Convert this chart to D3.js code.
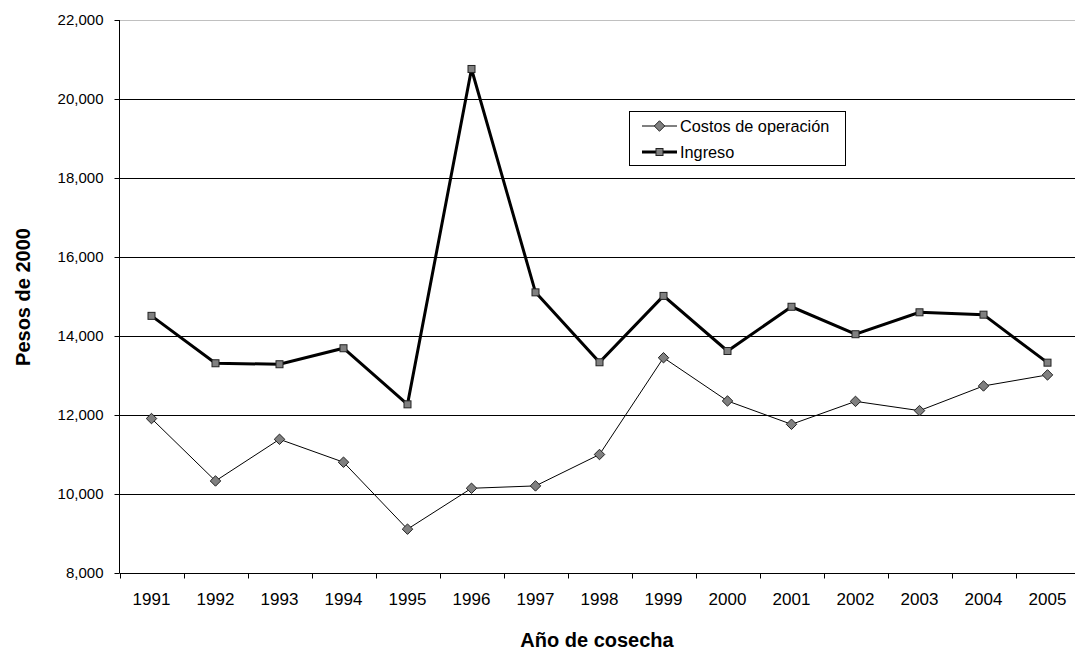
<!DOCTYPE html>
<html>
<head>
<meta charset="utf-8">
<script src="https://cdn.jsdelivr.net/npm/d3@7"></script>
<style>
  html, body { margin: 0; padding: 0; background: #fff; overflow: hidden; }
  svg { display: block; font-family: "Liberation Sans", Arial, sans-serif; }
</style>
</head>
<body>
<svg id="chart" width="1075" height="651"></svg>
<script>
// Harvest years
const years = ["1991","1992","1993","1994","1995","1996","1997","1998","1999","2000","2001","2002","2003","2004","2005"];
// Operating costs (pesos of 2000)
const costos = [11910, 10330, 11385, 10805, 9110, 10145, 10205, 11000, 13450, 12355, 11765, 12345, 12110, 12735, 13015];
// Income (pesos of 2000)
const ingreso = [14510, 13310, 13285, 13690, 12270, 20760, 15105, 13335, 15015, 13620, 14740, 14045, 14600, 14540, 13325];
// Y-axis ticks
const yTicks = [8000, 10000, 12000, 14000, 16000, 18000, 20000, 22000];

const svg = d3.select("#chart");
const plotLeft = 119.5, plotTop = 20, plotBottom = 573, bandW = 64;
const plotRight = plotLeft + bandW * years.length;

const x = d3.scaleBand().domain(years).range([plotLeft, plotRight]);
const y = d3.scaleLinear().domain([8000, 22000]).range([plotBottom, plotTop]);
const fmt = d3.format(",");

// Horizontal gridlines
svg.append("g").selectAll("line").data(yTicks.filter(d => d > 8000)).join("line")
  .attr("x1", plotLeft).attr("x2", plotRight)
  .attr("y1", d => Math.round(y(d)) + 0.5).attr("y2", d => Math.round(y(d)) + 0.5)
  .attr("stroke", d => d === 22000 ? "#c0c0c0" : "#000")
  .attr("stroke-width", 1);

// Y axis
const yAxis = svg.append("g")
  .attr("transform", `translate(${plotLeft},0)`)
  .call(d3.axisLeft(y).tickValues(yTicks).tickFormat(fmt).tickSize(5).tickPadding(11));
yAxis.select(".domain").attr("d", `M0,${plotTop}V${plotBottom}`).attr("stroke", "#000");
yAxis.selectAll(".tick line").attr("stroke", "#000");
yAxis.selectAll("text").attr("font-size", 15).attr("fill", "#000").attr("font-family", "Liberation Sans, Arial, sans-serif");

// X axis with ticks on the category boundaries
const xg = svg.append("g").attr("transform", `translate(0,${plotBottom + 0.5})`);
xg.append("line").attr("x1", plotLeft).attr("x2", plotRight).attr("stroke", "#000");
const bounds = d3.range(years.length + 1).map(i => plotLeft + i * bandW);
xg.selectAll("line.tk").data(bounds).join("line").attr("class", "tk")
  .attr("x1", d => Math.round(d) + 0.5).attr("x2", d => Math.round(d) + 0.5)
  .attr("y1", 0).attr("y2", 5).attr("stroke", "#000");
xg.selectAll("text").data(years).join("text")
  .attr("x", d => x(d) + x.bandwidth() / 2)
  .attr("y", 31.5)
  .attr("text-anchor", "middle")
  .attr("font-size", 17)
  .text(d => d);

// Lines
const line = vals => d3.line()
  .x((d, i) => x(years[i]) + x.bandwidth() / 2)
  .y(d => y(d))(vals);

svg.append("path").attr("d", line(costos))
  .attr("fill", "none").attr("stroke", "#000").attr("stroke-width", 1);
svg.append("path").attr("d", line(ingreso))
  .attr("fill", "none").attr("stroke", "#000").attr("stroke-width", 3).attr("stroke-linejoin", "miter");

// Markers
const diamond = d3.symbol().type(d3.symbolDiamond2).size(70);
svg.append("g").selectAll("path").data(costos).join("path")
  .attr("transform", (d, i) => `translate(${x(years[i]) + x.bandwidth() / 2},${y(d)})`)
  .attr("d", diamond)
  .attr("fill", "#808080").attr("stroke", "#222").attr("stroke-width", 1);

svg.append("g").selectAll("rect").data(ingreso).join("rect")
  .attr("x", (d, i) => x(years[i]) + x.bandwidth() / 2 - 3.5)
  .attr("y", d => y(d) - 3.5)
  .attr("width", 7).attr("height", 7)
  .attr("fill", "#808080").attr("stroke", "#222").attr("stroke-width", 1);

// Legend
const lg = svg.append("g");
lg.append("rect").attr("x", 629.5).attr("y", 111.5).attr("width", 216).attr("height", 54)
  .attr("fill", "#fff").attr("stroke", "#000").attr("stroke-width", 1);
const items = [
  { label: "Costos de operación", w: 1, shape: "diamond", cy: 126 },
  { label: "Ingreso", w: 3, shape: "square", cy: 152 }
];
items.forEach(it => {
  lg.append("line").attr("x1", 642).attr("x2", 677).attr("y1", it.cy).attr("y2", it.cy)
    .attr("stroke", "#000").attr("stroke-width", it.w);
  if (it.shape === "diamond") {
    lg.append("path").attr("transform", `translate(659.5,${it.cy})`).attr("d", diamond)
      .attr("fill", "#808080").attr("stroke", "#222");
  } else {
    lg.append("rect").attr("x", 656).attr("y", it.cy - 3.5).attr("width", 7).attr("height", 7)
      .attr("fill", "#808080").attr("stroke", "#222");
  }
  lg.append("text").attr("x", 680).attr("y", it.cy + 6).attr("font-size", 16.3).text(it.label);
});

// Axis titles
svg.append("text")
  .attr("transform", "translate(30,297) rotate(-90)")
  .attr("text-anchor", "middle")
  .attr("font-size", 20).attr("font-weight", "bold")
  .text("Pesos de 2000");
svg.append("text")
  .attr("x", 597).attr("y", 647)
  .attr("text-anchor", "middle")
  .attr("font-size", 20).attr("font-weight", "bold")
  .text("Año de cosecha");
</script>
</body>
</html>
